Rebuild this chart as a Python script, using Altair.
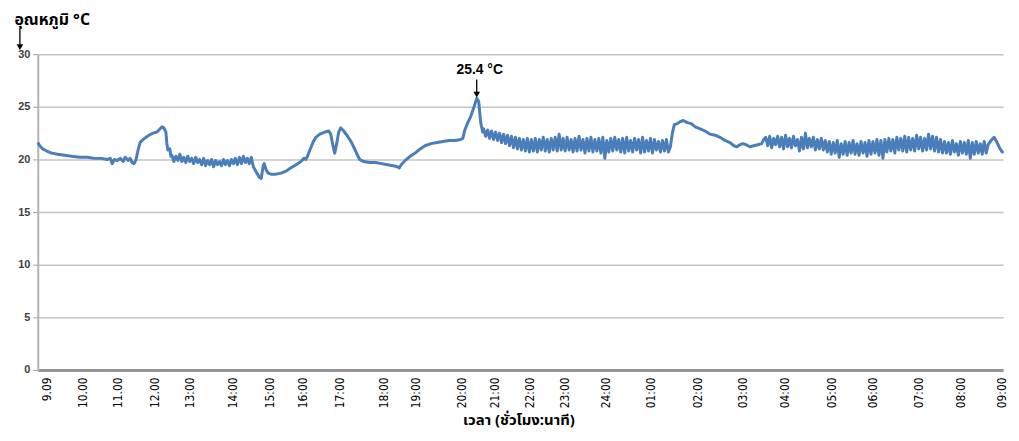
import altair as alt
import pandas as pd

# ---- data (record position along the logger trace, temperature in °C) ----
s1_pos = [38, 40, 43, 47, 52, 58, 65, 72, 80, 88, 95, 102, 108, 111, 113, 115, 118, 121, 124, 126,
          129, 131, 133, 135, 137, 139, 141, 144, 147, 150, 154, 158, 161, 163, 165, 167, 168, 169, 171, 172]
s1_temp = [21.6, 21.3, 21.0, 20.8, 20.6, 20.5, 20.4, 20.3, 20.2, 20.2, 20.1, 20.1, 20.0, 20.1, 19.6, 20.0, 19.9, 20.1, 19.8, 20.2,
           19.9, 20.1, 19.7, 19.6, 20.0, 20.9, 21.6, 21.9, 22.1, 22.3, 22.5, 22.6, 22.9, 23.1, 23.0, 22.6, 21.5, 20.9, 21.0, 20.3]

nA_span = [173, 249]
nA_temp = [20.4, 19.8, 20.3, 19.9, 20.5, 19.8, 20.2, 19.7, 20.3, 19.8, 20.1, 19.6, 20.2, 19.7, 20.0, 19.5, 20.1, 19.4, 19.9, 19.5,
           20.0, 19.3, 19.9, 19.5, 19.8, 19.4, 20.0, 19.5, 19.9, 19.4, 20.0, 19.6, 20.1, 19.5, 20.2, 19.6, 20.3, 19.7, 20.1]

s2_pos = [251, 253, 255, 258, 261, 263, 265, 266, 268, 270, 273, 278, 283, 288, 293, 298, 303, 306, 308, 310,
          312, 315, 318, 322, 327, 331, 333, 335, 337, 339, 341, 343, 346, 350, 354, 358, 362, 366, 372, 378,
          384, 390, 396, 400, 402, 404, 408, 413, 418, 423, 428, 434, 440, 446, 452, 458, 464, 466, 468, 471,
          474, 477, 480, 482, 484, 486]
s2_temp = [19.6, 20.2, 19.3, 18.8, 18.3, 18.2, 19.4, 19.6, 19.0, 18.7, 18.6, 18.6, 18.7, 18.9, 19.2, 19.5, 19.8, 20.1, 20.0, 20.4,
           20.9, 21.6, 22.1, 22.4, 22.6, 22.7, 22.4, 21.4, 20.6, 21.5, 22.6, 23.0, 22.7, 22.2, 21.6, 20.8, 20.0, 19.8, 19.7, 19.7,
           19.6, 19.5, 19.4, 19.3, 19.2, 19.5, 19.9, 20.3, 20.6, 21.0, 21.3, 21.5, 21.6, 21.7, 21.8, 21.8, 21.9, 22.0, 22.8, 23.5,
           24.1, 24.9, 25.8, 25.5, 23.5, 22.6]

nB_span = [487, 673]
nB_temp = [22.9, 22.2, 22.8, 22.0, 22.7, 21.9, 22.6, 21.8, 22.5, 21.6, 22.4, 21.5, 22.3, 21.3, 22.2, 21.1, 22.1, 21.0, 22.0, 20.9,
           21.9, 20.8, 22.0, 20.7, 21.9, 20.8, 22.0, 20.7, 21.9, 20.9, 22.1, 20.8, 21.9, 20.7, 22.0, 20.9, 22.1, 20.8, 22.4, 20.9,
           22.0, 20.8, 22.1, 20.9, 21.9, 20.7, 22.0, 20.8, 22.2, 20.9, 21.9, 20.6, 22.0, 20.8, 22.1, 20.7, 21.9, 20.8, 22.0, 20.6,
           22.1, 20.1, 21.8, 20.7, 22.0, 20.8, 22.1, 20.9, 21.9, 20.7, 22.0, 20.6, 22.1, 20.8, 21.8, 20.7, 22.0, 20.9, 21.9, 20.6,
           22.1, 20.7, 21.8, 20.8, 22.0, 20.6, 21.9, 20.9, 21.7, 20.7, 21.8, 20.8, 21.9, 20.7]

s3_pos = [675, 677, 679, 682, 685, 688, 692, 696, 700, 705, 710, 715, 720, 725, 730, 735, 739, 742, 745, 748,
          751, 755, 759, 763, 767, 769]
s3_temp = [21.2, 22.5, 23.3, 23.4, 23.6, 23.7, 23.5, 23.4, 23.1, 22.9, 22.7, 22.4, 22.3, 22.1, 21.8, 21.6, 21.3, 21.2, 21.4, 21.5,
           21.4, 21.2, 21.3, 21.4, 21.5, 21.9]

nC_span = [771, 995]
nC_temp = [22.1, 21.3, 22.2, 21.1, 22.0, 21.4, 22.2, 21.2, 22.1, 21.0, 22.3, 21.2, 22.0, 21.1, 22.2, 21.3, 21.9, 20.8, 22.1, 21.0,
           22.5, 21.1, 22.0, 21.2, 22.1, 20.9, 21.9, 21.0, 22.0, 20.9,
           21.8, 20.7, 21.7, 20.5, 21.6, 20.6, 21.8, 20.2, 21.5, 20.5, 21.7, 20.4, 21.6, 20.6, 21.8, 20.5, 21.5, 20.4, 21.7, 20.6,
           21.6, 20.3, 21.8, 20.5, 21.7, 20.6, 21.9, 20.4, 21.8, 20.1,
           21.9, 20.7, 22.0, 20.8, 21.9, 20.6, 22.1, 20.9, 22.0, 20.8, 22.2, 20.7, 22.1, 20.9, 22.0, 20.8, 22.3, 21.0, 22.1, 20.8,
           22.0, 20.9, 22.4, 21.0, 22.2, 20.8, 22.1, 20.7, 21.9, 20.6,
           21.7, 20.6, 21.6, 20.5, 21.8, 20.7, 21.5, 20.4, 21.7, 20.6, 21.6, 20.5, 21.8, 20.1, 21.6, 20.5, 21.7, 20.6, 21.5, 20.5,
           21.7, 20.6, 21.4]

s4_pos = [998, 1001, 1004, 1007, 1010]
s4_temp = [21.8, 22.1, 21.6, 21.0, 20.6]

tick_pos = [47, 83, 118, 156, 191, 234, 271, 305, 342, 386, 418, 465, 498, 533, 568, 610, 655, 702, 748, 790,
            837, 879, 925, 967, 1008]
tick_labels = ["9.09", "10.00", "11.00", "12.00", "13:00", "14:00", "15:00", "16:00", "17:00", "18:00", "19:00",
               "20:00", "21:00", "22:00", "23:00", "24:00", "01:00", "02:00", "03:00", "04:00", "05:00", "06:00",
               "07:00", "08:00", "09:00"]

peak_label = "25.4 °C"
y_title = "อุณหภูมิ °C"
x_title = "เวลา (ชั่วโมง:นาที)"

# ---- assemble ----
rows = []
def add_pairs(pos, temp):
    for p, t in zip(pos, temp):
        rows.append({"pos": float(p), "temp": t})

def add_run(span, temp):
    step = (span[1] - span[0]) / (len(temp) - 1)
    for i, t in enumerate(temp):
        rows.append({"pos": span[0] + i * step, "temp": t})

add_pairs(s1_pos, s1_temp)
add_run(nA_span, nA_temp)
add_pairs(s2_pos, s2_temp)
add_run(nB_span, nB_temp)
add_pairs(s3_pos, s3_temp)
add_run(nC_span, nC_temp)
add_pairs(s4_pos, s4_temp)
df = pd.DataFrame(rows).sort_values("pos").reset_index(drop=True)

peak_row = df.loc[df["temp"].idxmax()]
peak_pos = float(peak_row["pos"])
peak_temp = float(peak_row["temp"])

THAI = "Noto Sans Thai, Tahoma, Loma, Garuda, sans-serif"
NARROW = "Liberation Sans Narrow, DejaVu Sans Condensed, Arial Narrow, Liberation Sans, sans-serif"

label_expr = "[" + ",".join("'%s'" % s for s in tick_labels) + "][indexof([" + ",".join(str(v) for v in tick_pos) + "], datum.value)]"

x_enc = alt.X("pos:Q",
              scale=alt.Scale(domain=[38, 1010], nice=False, zero=False),
              axis=alt.Axis(values=tick_pos, labelExpr=label_expr, labelAngle=270, labelAlign="right",
                            labelBaseline="middle", ticks=False, grid=False, domainColor="#969696",
                            domainWidth=3, labelFont=NARROW, labelFontSize=12, labelColor="#000000",
                            labelPadding=7, labelOverlap=False, labelFlush=False,
                            title=x_title, titleFont=THAI, titleFontSize=15, titleFontWeight="bold",
                            titleColor="#000000", titleAngle=0, titleAlign="center", titleBaseline="alphabetic",
                            titleX=484, titleY=55))
y_enc = alt.Y("temp:Q",
              scale=alt.Scale(domain=[0, 30], nice=False, zero=True),
              axis=alt.Axis(values=[0, 5, 10, 15, 20, 25, 30], grid=True, gridColor="#c4c4c4", gridWidth=1.5,
                            domainColor="#b5b5b5", domainWidth=2, tickColor="#a0a0a0", tickSize=5,
                            labelFont="Liberation Sans, sans-serif", labelFontSize=11, labelFontWeight="bold",
                            labelColor="#404040", labelPadding=3,
                            title=y_title, titleFont=THAI, titleFontSize=16, titleFontWeight="bold",
                            titleColor="#000000", titleAngle=0, titleAlign="left", titleBaseline="alphabetic",
                            titleX=-24, titleY=-30))

line = alt.Chart(df).mark_line(color="#4A7EBB", strokeWidth=3, strokeJoin="round").encode(x=x_enc, y=y_enc)

ann_df = pd.DataFrame({"pos": [peak_pos], "temp": [peak_temp], "label": [peak_label],
                       "ty": [peak_temp + 2.7], "a1": [peak_temp + 1.8], "a2": [peak_temp + 0.45],
                       "ah": [peak_temp + 0.35]})
ann_text = alt.Chart(ann_df).mark_text(fontSize=14, fontWeight="bold", font="Liberation Sans, sans-serif",
                                       color="#000000", baseline="middle", dx=3).encode(
    x="pos:Q", y="ty:Q", text="label:N")
ann_rule = alt.Chart(ann_df).mark_rule(color="#000000", strokeWidth=1.3).encode(x="pos:Q", y="a1:Q", y2="a2:Q")
ann_head = alt.Chart(ann_df).mark_point(shape="triangle-down", filled=True, color="#000000", size=45, opacity=1).encode(
    x="pos:Q", y="ah:Q")

one = pd.DataFrame({"k": [0]})
yt_rule = alt.Chart(one).mark_rule(color="#000000", strokeWidth=1.3).encode(
    x=alt.value(-18), y=alt.value(-26), y2=alt.value(-9))
yt_head = alt.Chart(one).mark_point(shape="triangle-down", filled=True, color="#000000", size=45, opacity=1).encode(
    x=alt.value(-18), y=alt.value(-7))

chart = alt.layer(line, ann_rule, ann_head, ann_text, yt_rule, yt_head).properties(
    width=972, height=318,
    autosize=alt.AutoSizeParams(type="none"),
    padding={"left": 30, "top": 45, "right": 8, "bottom": 62},
    background="#ffffff",
).configure_view(stroke=None)

chart.save("out.html", embed_options={"renderer": "svg", "actions": False})
